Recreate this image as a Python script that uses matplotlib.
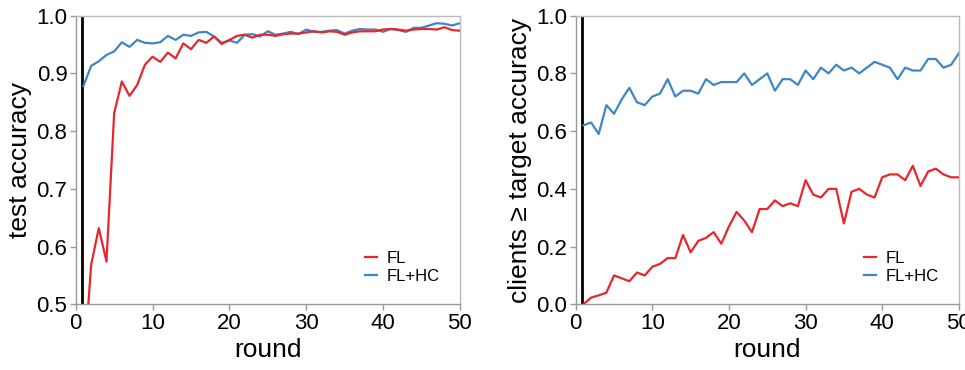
import matplotlib
matplotlib.use("Agg")
import matplotlib.pyplot as plt
import numpy as np

plt.rcParams['font.family'] = ['Liberation Sans', 'DejaVu Sans']

rounds = np.arange(1, 51)

acc_fl = [0.38, 0.568, 0.632, 0.574, 0.831, 0.886, 0.861, 0.880, 0.915, 0.929,
          0.920, 0.936, 0.926, 0.952, 0.942, 0.958, 0.953, 0.964, 0.951, 0.958,
          0.965, 0.967, 0.962, 0.967, 0.967, 0.965, 0.968, 0.969, 0.969, 0.971,
          0.973, 0.971, 0.973, 0.972, 0.967, 0.971, 0.973, 0.973, 0.973, 0.976,
          0.977, 0.976, 0.974, 0.976, 0.977, 0.977, 0.976, 0.980, 0.975, 0.974]
acc_flhc = [0.878, 0.913, 0.921, 0.932, 0.938, 0.954, 0.946, 0.958, 0.953, 0.952,
            0.954, 0.965, 0.958, 0.967, 0.965, 0.971, 0.972, 0.964, 0.953, 0.957,
            0.953, 0.967, 0.968, 0.964, 0.973, 0.967, 0.969, 0.972, 0.968, 0.976,
            0.972, 0.972, 0.974, 0.975, 0.969, 0.974, 0.977, 0.976, 0.976, 0.972,
            0.977, 0.975, 0.972, 0.979, 0.979, 0.983, 0.987, 0.986, 0.983, 0.987]

cli_fl = [0.0, 0.023, 0.031, 0.04, 0.10, 0.09, 0.08, 0.11, 0.10, 0.13,
          0.14, 0.16, 0.16, 0.24, 0.18, 0.22, 0.23, 0.25, 0.21, 0.27,
          0.32, 0.29, 0.25, 0.33, 0.33, 0.36, 0.34, 0.35, 0.34, 0.43,
          0.38, 0.37, 0.40, 0.40, 0.28, 0.39, 0.40, 0.38, 0.37, 0.44,
          0.45, 0.45, 0.43, 0.48, 0.41, 0.46, 0.47, 0.45, 0.44, 0.44]
cli_flhc = [0.62, 0.63, 0.59, 0.69, 0.66, 0.71, 0.75, 0.70, 0.69, 0.72,
            0.73, 0.78, 0.72, 0.74, 0.74, 0.73, 0.78, 0.76, 0.77, 0.77,
            0.77, 0.80, 0.76, 0.78, 0.80, 0.74, 0.78, 0.78, 0.76, 0.81,
            0.78, 0.82, 0.80, 0.83, 0.81, 0.82, 0.80, 0.82, 0.84, 0.83,
            0.82, 0.78, 0.82, 0.81, 0.81, 0.85, 0.85, 0.82, 0.83, 0.87]

red = '#e8262d'
blue = '#3f86c4'

fig = plt.figure(figsize=(9.65, 3.7), dpi=100)
ax1 = fig.add_axes([0.0785, 0.1776, 0.398, 0.780])
ax2 = fig.add_axes([0.5966, 0.1776, 0.397, 0.780])

panels = [(ax1, acc_fl, acc_flhc, (0.5, 1.0), np.arange(0.5, 1.01, 0.1), 'test accuracy'),
          (ax2, cli_fl, cli_flhc, (0.0, 1.0), np.arange(0.0, 1.01, 0.2), 'clients \u2265 target accuracy')]

for ax, fl, flhc, ylim, yt, ylab in panels:
    ax.axvline(0.87, color='black', lw=2, zorder=1)
    ax.plot(rounds, fl, color=red, lw=1.6, label='FL', zorder=3)
    ax.plot(rounds, flhc, color=blue, lw=1.6, label='FL+HC', zorder=2)
    ax.set_xlim(0, 50)
    ax.set_ylim(*ylim)
    ax.set_xticks([0, 10, 20, 30, 40, 50])
    ax.set_yticks(yt)
    ax.set_yticklabels(['%.1f' % v for v in yt])
    ax.tick_params(labelsize=16, color='#999999', length=4, width=1, pad=2)
    for s in ax.spines.values():
        s.set_color('#bbbbbb')
        s.set_linewidth(1)
    ax.spines['left'].set_color('#999999')
    ax.spines['bottom'].set_color('#999999')
    ax.set_xlabel('round', fontsize=19, labelpad=3)
    ax.set_ylabel(ylab, fontsize=19, labelpad=3)
    ax.legend(loc='lower right', fontsize=12, frameon=False, handlelength=0.7,
              handletextpad=0.6, labelspacing=0.2, borderaxespad=0.8)

plt.savefig('out.png', dpi=100)
